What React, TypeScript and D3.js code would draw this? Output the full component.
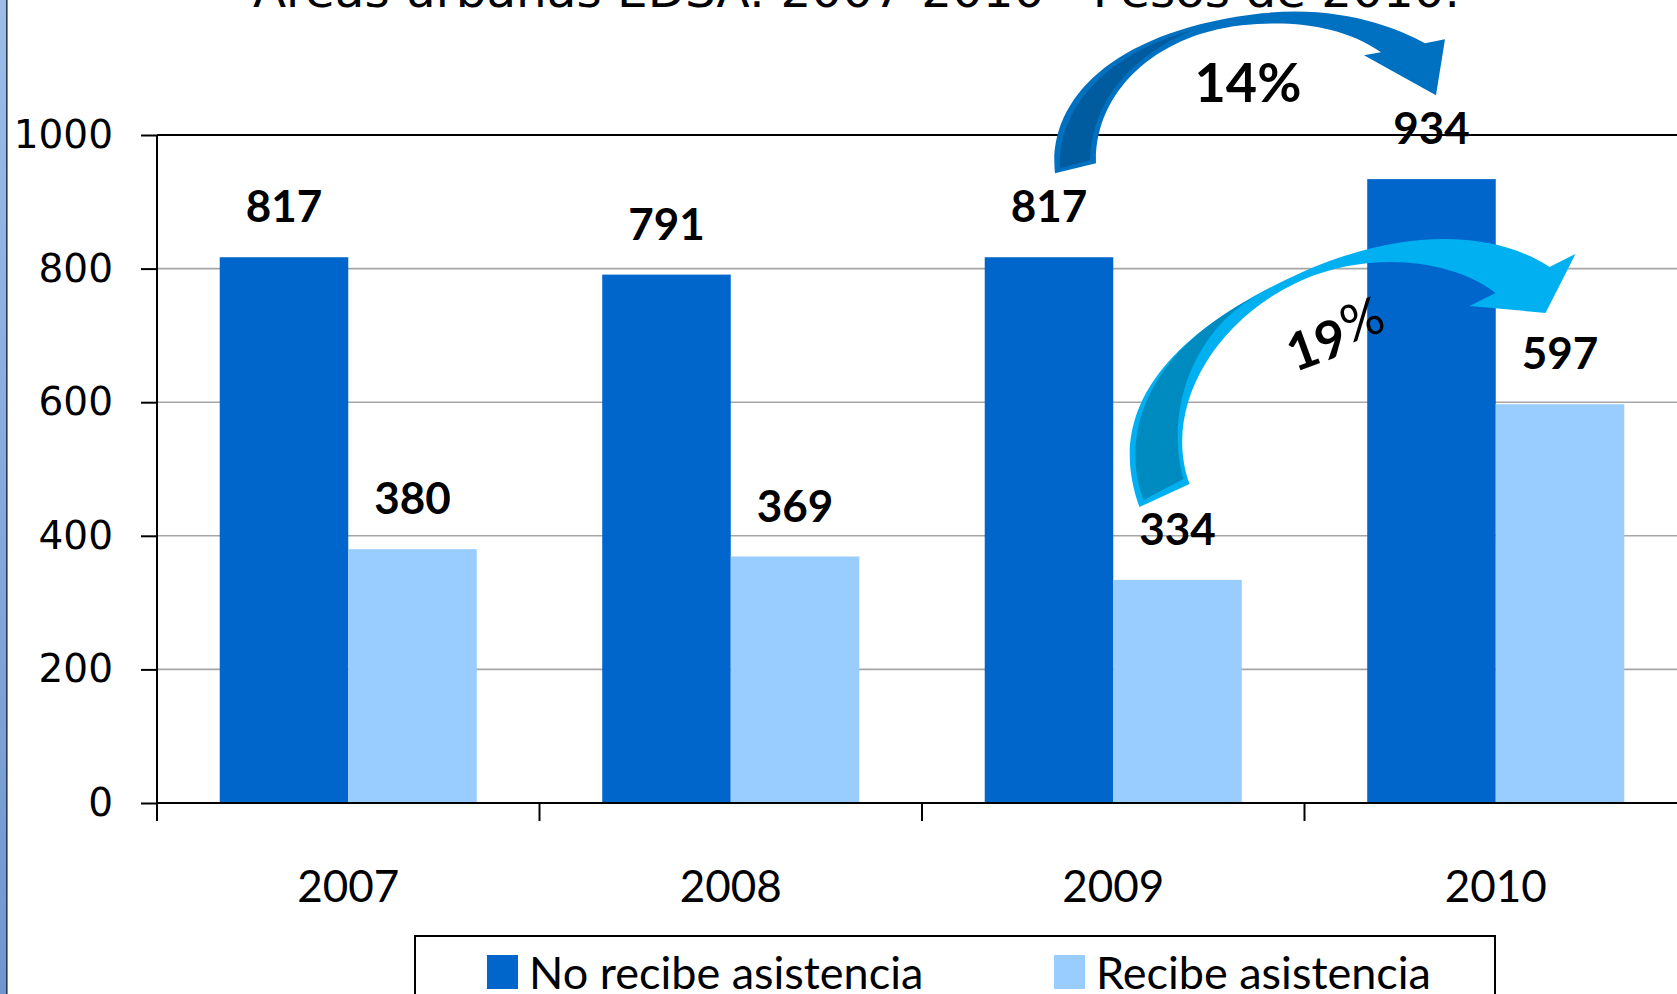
import React, { useRef, useEffect } from 'react';
import { select, scaleBand, scaleLinear, axisLeft, axisBottom } from 'd3';

const years = ['2007', '2008', '2009', '2010'];
const seriesNames = ['No recibe asistencia', 'Recibe asistencia'];
const noRecibe = [817, 791, 817, 934];
const recibe = [380, 369, 334, 597];
const yTicks = [0, 200, 400, 600, 800, 1000];
const colors = ['#0066CC', '#99CCFF'];
const titleText = 'Áreas urbanas EDSA: 2007-2010 - Pesos de 2010.';
const changeLabels = ['14%', '19'];

const dims = {
  width: 1677,
  height: 994,
  left: 157,
  top: 135,
  bottom: 803,
  step: 382.5,
};

const App = () => {
  const svgRef = useRef(null);

  useEffect(() => {
    const svg = select(svgRef.current);
    svg.selectAll('*').remove();

    const x = scaleBand<string>()
      .domain(years)
      .range([dims.left, dims.left + dims.step * years.length]);
    const xSub = scaleBand<string>()
      .domain(seriesNames)
      .range([0, x.bandwidth()])
      .paddingInner(0)
      .paddingOuter(0.488);
    const y = scaleLinear().domain([0, 1000]).range([dims.bottom, dims.top]);

    const values = [noRecibe, recibe];
    const barCenter = (i: number, s: number) =>
      (x(years[i]) as number) + (xSub(seriesNames[s]) as number) + xSub.bandwidth() / 2;

    // left edge of the slide background
    const defs = svg.append('defs');
    const grad = defs
      .append('linearGradient')
      .attr('id', 'edge')
      .attr('x1', 0)
      .attr('y1', 0)
      .attr('x2', 0)
      .attr('y2', 1);
    grad.append('stop').attr('offset', '0%').attr('stop-color', '#9DBDE8');
    grad.append('stop').attr('offset', '100%').attr('stop-color', '#6F97CF');
    svg.append('rect').attr('x', 0).attr('y', 0).attr('width', 6).attr('height', dims.height).attr('fill', 'url(#edge)');
    svg.append('rect').attr('x', 6).attr('y', 0).attr('width', 1.6).attr('height', dims.height).attr('fill', '#2B3956');

    // title, mostly cut off at the top
    svg
      .append('text')
      .attr('x', 253)
      .attr('y', 7)
      .attr('font-family', 'DejaVu Sans')
      .attr('font-size', 46)
      .attr('textLength', 1207)
      .attr('lengthAdjust', 'spacingAndGlyphs')
      .attr('fill', '#000')
      .text(titleText);

    // gridlines
    svg
      .append('g')
      .selectAll('line')
      .data(yTicks.filter((t) => t > 0))
      .join('line')
      .attr('x1', dims.left)
      .attr('x2', dims.width)
      .attr('y1', (d) => y(d))
      .attr('y2', (d) => y(d))
      .attr('stroke', (d) => (d === 1000 ? '#000' : '#A6A6A6'))
      .attr('stroke-width', (d) => (d === 1000 ? 2 : 1.6));

    // bars
    const groups = svg
      .append('g')
      .selectAll('g')
      .data(years)
      .join('g')
      .attr('transform', (d) => `translate(${x(d)},0)`);
    groups
      .selectAll('rect')
      .data((_, i) => values.map((v, s) => ({ s, v: v[i] })))
      .join('rect')
      .attr('x', (d) => xSub(seriesNames[d.s]) as number)
      .attr('width', xSub.bandwidth())
      .attr('y', (d) => y(d.v))
      .attr('height', (d) => y(0) - y(d.v))
      .attr('fill', (d) => colors[d.s]);

    // y axis
    const yAxisG = svg
      .append('g')
      .attr('transform', `translate(${dims.left},0)`)
      .call(
        axisLeft(y)
          .tickValues(yTicks)
          .tickFormat((d) => String(d))
          .tickSize(16)
          .tickSizeOuter(0)
          .tickPadding(28)
      );
    yAxisG.select('.domain').remove();
    yAxisG.selectAll('line').attr('stroke', '#000').attr('stroke-width', 2);
    yAxisG
      .selectAll('text')
      .attr('font-family', 'DejaVu Sans')
      .attr('font-size', 39)
      .attr('fill', '#000');

    svg
      .append('line')
      .attr('x1', dims.left)
      .attr('x2', dims.left)
      .attr('y1', dims.top)
      .attr('y2', dims.bottom + 18)
      .attr('stroke', '#000')
      .attr('stroke-width', 2);
    svg
      .append('line')
      .attr('x1', dims.left)
      .attr('x2', dims.width)
      .attr('y1', dims.bottom)
      .attr('y2', dims.bottom)
      .attr('stroke', '#000')
      .attr('stroke-width', 2);

    // category boundary ticks
    const boundaries = [...years.map((d) => x(d) as number), x.range()[1]];
    svg
      .append('g')
      .selectAll('line')
      .data(boundaries)
      .join('line')
      .attr('x1', (d) => d)
      .attr('x2', (d) => d)
      .attr('y1', dims.bottom)
      .attr('y2', dims.bottom + 18)
      .attr('stroke', '#000')
      .attr('stroke-width', 2);

    // x labels
    const xAxisG = svg
      .append('g')
      .attr('transform', `translate(0,${dims.bottom})`)
      .call(axisBottom(x).tickSize(0).tickPadding(68));
    xAxisG.select('.domain').remove();
    xAxisG
      .selectAll('text')
      .attr('font-family', 'Lato')
      .attr('font-size', 44)
      .attr('fill', '#000');

    // value labels
    const labelData = values.flatMap((v, s) => v.map((val, i) => ({ s, i, val })));
    svg
      .append('g')
      .selectAll('text')
      .data(labelData)
      .join('text')
      .attr('x', (d) => barCenter(d.i, d.s))
      .attr('y', (d) => y(d.val) - 35)
      .attr('text-anchor', 'middle')
      .attr('font-family', 'Lato')
      .attr('font-weight', 'bold')
      .attr('font-size', 44)
      .attr('fill', '#000')
      .text((d) => d.val);

    // arrow 2009 -> 2010, no recibe
    const a1 = svg
      .append('g')
      .attr('transform', `translate(${barCenter(2, 0)},${y(noRecibe[2])})`);
    a1.append('path')
      .attr(
        'd',
        'M6,-84 C-2,-157 63,-227 213,-244 C293,-252 348,-229 376,-214 L396,-218 L387,-162 L315,-202 L332,-205 C293,-232 243,-237 193,-232 C103,-222 45,-162 47,-94 Z'
      )
      .attr('fill', '#0070C0');
    a1.append('path')
      .attr('d', 'M11,-89 C9,-147 53,-202 143,-227 C83,-202 43,-157 41,-97 Z')
      .attr('fill', '#005C9F');
    a1.append('text')
      .attr('x', 199)
      .attr('y', -155)
      .attr('text-anchor', 'middle')
      .attr('font-family', 'Lato')
      .attr('font-weight', 'bold')
      .attr('font-size', 54)
      .attr('fill', '#000')
      .text(changeLabels[0]);

    // arrow 2009 -> 2010, recibe
    const a2 = svg
      .append('g')
      .attr('transform', `translate(${barCenter(2, 1)},${y(recibe[2])})`);
    a2.append('path')
      .attr(
        'd',
        'M-38,-73 C-70,-160 -25,-240 125,-308 C225,-352 315,-350 372,-313 L398,-326 L368,-267 L292,-274 L318,-287 C275,-320 195,-330 125,-300 C35,-260 -15,-170 12,-96 Z'
      )
      .attr('fill', '#00B0F0');
    a2.append('path')
      .attr('d', 'M-34,-80 C-62,-160 -15,-240 87,-288 C25,-260 -15,-180 6,-101 Z')
      .attr('fill', '#008BC0');
    const t2 = a2
      .append('text')
      .attr('transform', 'translate(159,-242) rotate(-20)')
      .attr('y', 18)
      .attr('text-anchor', 'middle')
      .attr('font-family', 'Lato')
      .attr('font-weight', 'bold')
      .attr('font-size', 52)
      .attr('fill', '#000');
    t2.append('tspan').text(changeLabels[1]);
    t2.append('tspan').attr('font-weight', 'normal').attr('dy', -8).text('%');

    // legend
    const legend = svg.append('g');
    legend
      .append('rect')
      .attr('x', 415)
      .attr('y', 936)
      .attr('width', 1080)
      .attr('height', 90)
      .attr('fill', '#fff')
      .attr('stroke', '#000')
      .attr('stroke-width', 2);
    const legendX = [487, 1054];
    const items = legend
      .selectAll('g')
      .data(seriesNames)
      .join('g')
      .attr('transform', (_, i) => `translate(${legendX[i]},955)`);
    items
      .append('rect')
      .attr('width', 31)
      .attr('height', 34)
      .attr('fill', (_, i) => colors[i]);
    items
      .append('text')
      .attr('x', 42)
      .attr('y', 34)
      .attr('font-family', 'Lato')
      .attr('font-size', 45)
      .attr('fill', '#000')
      .text((d) => d);
  }, []);

  return (
    <svg
      ref={svgRef}
      width={dims.width}
      height={dims.height}
      style={{ position: 'absolute', left: 0, top: 0, background: '#fff' }}
    ></svg>
  );
};

export default App;
